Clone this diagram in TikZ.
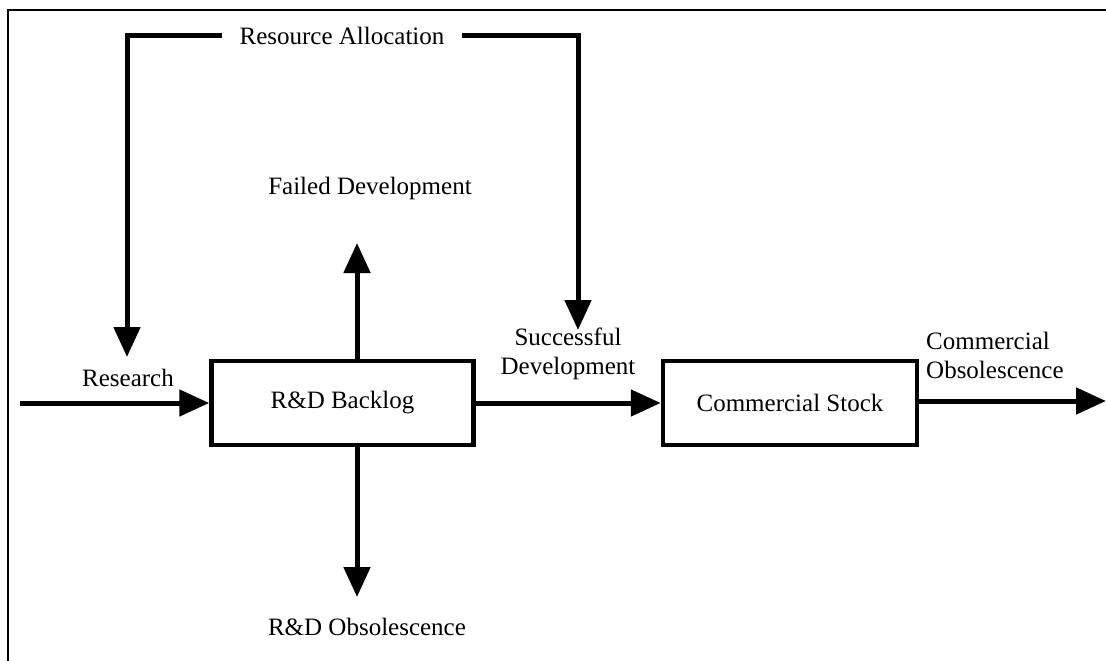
\documentclass[tikz,border=0pt]{standalone}
\usepackage{fontspec}
\setmainfont{Liberation Serif}
\usetikzlibrary{arrows.meta}
\begin{document}
\begin{tikzpicture}[x=1pt,y=-1pt,
  every node/.style={font=\fontsize{25}{29}\selectfont},
  flow/.style={line width=5pt,-{Triangle[length=30pt,width=26pt]}},
  plain/.style={line width=5pt},
  stock/.style={draw,line width=4.5pt,minimum width=262pt,minimum height=84pt,inner sep=0pt},
  lbl/.style={inner sep=0pt,align=center}]
\useasboundingbox (0,0) rectangle (1106,661);
\draw[line width=2pt] (8,661) -- (8,10) -- (1106,10);
% stocks
\node[stock] (rd) at (342.5,403) {R\&D Backlog};
\node[stock,minimum width=254pt] (cs) at (790,403) {Commercial Stock};
% resource allocation
\node[inner ysep=0pt,inner xsep=17pt] (ra) at (342,36) {Resource Allocation};
\coordinate (raL) at (127,357);
\coordinate (raR) at (578,330);
\draw[flow] (ra.west) -| (raL);
\draw[flow] (ra.east) -| (raR);
% research inflow
\coordinate (rin) at (20,403);
\draw[flow] (rin) -- (rd.west);
\node[lbl] (research) at (128,378) {Research};
% failed development
\coordinate (fdtip) at (357,243);
\draw[flow] (fdtip |- rd.north) -- (fdtip);
\node[lbl] (fd) at (370,188) {Failed Development};
% R&D obsolescence
\coordinate (rotip) at (357,597);
\draw[flow] (rotip |- rd.south) -- (rotip);
\node[lbl] (ro) at (367,627) {R\&D Obsolescence};
% successful development
\draw[flow] (rd.east) -- (cs.west);
\node[lbl] (sd) at (568,354) {Successful\\Development};
% commercial obsolescence
\coordinate (cotip) at (1106,401);
\draw[flow] (cs.east |- cotip) -- (cotip);
\node[lbl,anchor=west,align=left] (co) at (926,355) {Commercial\\Obsolescence};
\end{tikzpicture}
\end{document}
